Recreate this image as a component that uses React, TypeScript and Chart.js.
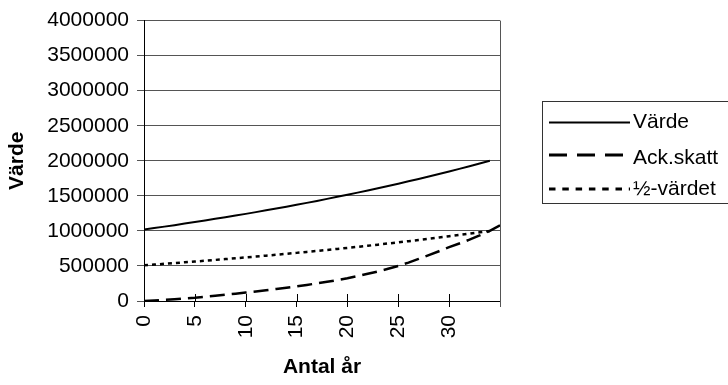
import { useEffect, useRef } from 'react';
import { Chart, registerables } from 'chart.js';

Chart.register(...registerables);

const years = [0, 1, 2, 3, 4, 5, 6, 7, 8, 9, 10, 11, 12, 13, 14, 15, 16, 17, 18, 19, 20, 21, 22, 23, 24, 25, 26, 27, 28, 29, 30, 31, 32, 33, 34, 35];

const vardeValues = [1020000, 1040000, 1061000, 1082000, 1104000, 1126000, 1149000, 1172000, 1195000, 1219000, 1243000, 1268000, 1294000, 1319000, 1346000, 1373000, 1400000, 1428000, 1457000, 1486000, 1516000, 1546000, 1577000, 1608000, 1641000, 1673000, 1707000, 1741000, 1776000, 1811000, 1848000, 1885000, 1922000, 1961000, 2000000];

const ackSkattValues = [0, 8000, 17000, 26000, 36000, 46000, 60000, 75000, 90000, 105000, 121000, 137000, 154000, 171000, 189000, 208000, 229000, 251000, 274000, 298000, 324000, 355000, 388000, 422000, 460000, 500000, 548000, 600000, 655000, 710000, 768000, 820000, 875000, 935000, 1000000, 1080000];

const halfValues = [510000, 520000, 530500, 541000, 552000, 563000, 574500, 586000, 597500, 609500, 621500, 634000, 647000, 659500, 673000, 686500, 700000, 714000, 728500, 743000, 758000, 773000, 788500, 804000, 820500, 836500, 853500, 870500, 888000, 905500, 924000, 942500, 961000, 980500, 1000000];

const xTickLabels = ['0', '5', '10', '15', '20', '25', '30', ''];
const seriesNames = ['Värde', 'Ack.skatt', '½-värdet'];
const xTitle = 'Antal år';
const yTitle = 'Värde';

const FONT = "'Liberation Sans', Arial, sans-serif";

export default function App() {
  const ref = useRef<HTMLCanvasElement>(null);

  useEffect(() => {
    document.body.style.margin = '0';
    const toPts = (vals: number[]) => vals.map((v, i) => ({ x: years[i], y: v }));
    const legendDash: number[][] = [[], [18, 10], [6.5, 6.8]];
    const legendWidth = [2, 3, 3];

    const framePlugin = {
      id: 'framePlugin',
      afterDatasetsDraw(chart: any) {
        const { ctx, chartArea } = chart;
        const xs = chart.scales.x;
        ctx.save();
        ctx.strokeStyle = '#555';
        ctx.lineWidth = 1;
        ctx.beginPath();
        const rx = Math.round(chartArea.right) + 0.5;
        ctx.moveTo(rx, chartArea.top);
        ctx.lineTo(rx, chartArea.bottom + 6);
        ctx.stroke();
        ctx.strokeStyle = '#000';
        ctx.beginPath();
        for (let v = 5; v <= 30; v += 5) {
          const px = Math.round(xs.getPixelForValue(v)) + 0.5;
          ctx.moveTo(px, chartArea.bottom - 7);
          ctx.lineTo(px, chartArea.bottom);
        }
        ctx.stroke();
        ctx.restore();
      },
      afterDraw(chart: any) {
        const { ctx } = chart;
        ctx.save();
        ctx.strokeStyle = '#333';
        ctx.lineWidth = 1;
        ctx.strokeRect(542.5, 101.5, 200, 102);
        const rows = [122.5, 155, 189];
        const textY = [122, 158, 189];
        chart.data.datasets.forEach((ds: any, i: number) => {
          ctx.beginPath();
          ctx.setLineDash(legendDash[i]);
          ctx.lineWidth = legendWidth[i];
          ctx.strokeStyle = '#000';
          ctx.moveTo(549, rows[i]);
          ctx.lineTo(630, rows[i]);
          ctx.stroke();
          ctx.setLineDash([]);
          ctx.fillStyle = '#000';
          ctx.font = `21px ${FONT}`;
          ctx.textBaseline = 'middle';
          ctx.textAlign = 'left';
          ctx.fillText(ds.label, 633, textY[i]);
        });
        ctx.restore();
      },
    };

    const chart = new Chart(ref.current as HTMLCanvasElement, {
      type: 'line',
      data: {
        datasets: [
          { label: seriesNames[0], data: toPts(vardeValues), borderColor: '#000', borderWidth: 2, pointRadius: 0, fill: false, tension: 0 },
          { label: seriesNames[1], data: toPts(ackSkattValues), borderColor: '#000', borderWidth: 2.5, borderDash: [15, 7], pointRadius: 0, fill: false, tension: 0 },
          { label: seriesNames[2], data: toPts(halfValues), borderColor: '#000', borderWidth: 2.5, borderDash: [4, 4], pointRadius: 0, fill: false, tension: 0 },
        ],
      },
      options: {
        responsive: false,
        animation: false,
        events: [],
        layout: { padding: { top: 15, right: 228, bottom: 0, left: 0 } },
        plugins: { legend: { display: false }, tooltip: { enabled: false } },
        scales: {
          x: {
            type: 'linear',
            min: 0,
            max: 35,
            afterFit: (s: any) => { s.height = 84; },
            ticks: {
              stepSize: 5,
              autoSkip: false,
              maxRotation: 90,
              minRotation: 90,
              padding: 8,
              color: '#000',
              font: { family: FONT, size: 21 },
              callback: (_v: any, i: number) => xTickLabels[i],
            },
            grid: { drawOnChartArea: false, drawTicks: true, tickLength: 6, color: '#000' },
            border: { color: '#000', width: 1 },
            title: { display: true, text: xTitle, color: '#000', font: { family: FONT, size: 21, weight: 'bold' }, padding: { top: 0, bottom: 5 } },
          },
          y: {
            min: 0,
            max: 4000000,
            afterFit: (s: any) => { s.width = 144; },
            ticks: {
              stepSize: 500000,
              padding: 8,
              color: '#000',
              font: { family: FONT, size: 21 },
              callback: (v: any) => String(v),
            },
            grid: { color: '#555', tickLength: 7 },
            border: { color: '#000', width: 1 },
            title: { display: true, text: yTitle, color: '#000', font: { family: FONT, size: 21, weight: 'bold' }, padding: { top: 5, bottom: 0 } },
          },
        },
      },
      plugins: [framePlugin],
    } as any);
    return () => chart.destroy();
  }, []);

  return (
    <div style={{ width: 728, height: 385 }}>
      <canvas ref={ref} width={728} height={385} style={{ display: 'block' }} />
    </div>
  );
}
